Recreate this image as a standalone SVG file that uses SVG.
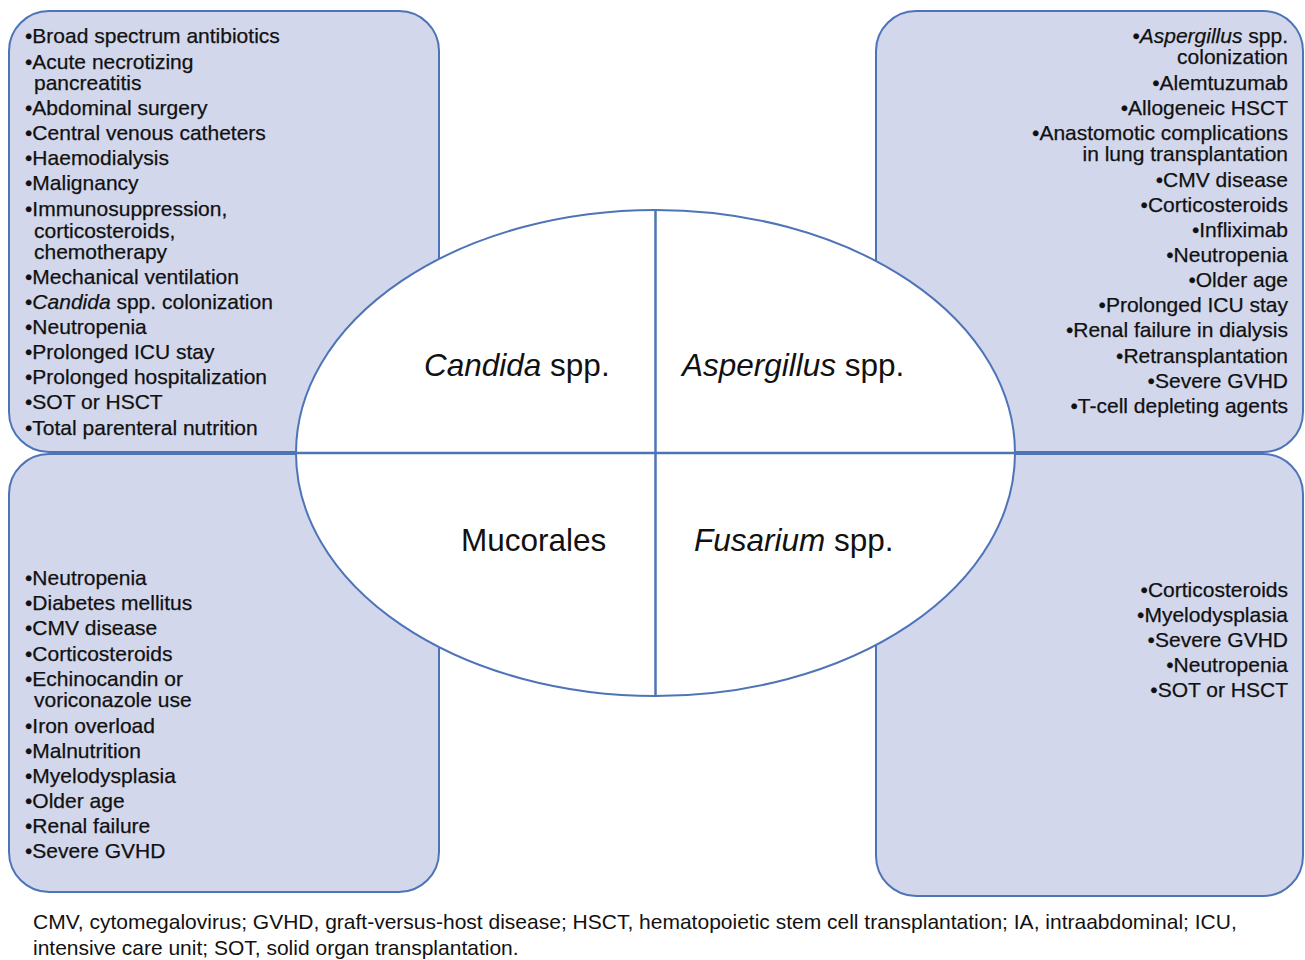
<svg xmlns="http://www.w3.org/2000/svg" width="1305" height="960" viewBox="0 0 1305 960">
<style>
.box{fill:#D3D7EC;stroke:#4E74B8;stroke-width:2}
.t{font-family:"Liberation Sans",Arial,sans-serif;font-size:21px;fill:#111;stroke:#111;stroke-width:0.25}
.r{text-anchor:end}
.c{font-family:"Liberation Sans",Arial,sans-serif;font-size:31.5px;fill:#111}
.f{font-family:"Liberation Sans",Arial,sans-serif;font-size:21px;fill:#111}
.ln{stroke:#4E74B8;stroke-width:2.5;fill:none}
</style>
<rect width="1305" height="960" fill="#fff"/>
<g id="candida-box">
<rect class="box" x="9" y="11" width="430" height="441" rx="40"/>
<text class="t" x="25" y="43">•Broad spectrum antibiotics</text>
<text class="t" x="25" y="69">•Acute necrotizing</text>
<text class="t" x="34" y="90">pancreatitis</text>
<text class="t" x="25" y="115">•Abdominal surgery</text>
<text class="t" x="25" y="140">•Central venous catheters</text>
<text class="t" x="25" y="165">•Haemodialysis</text>
<text class="t" x="25" y="190">•Malignancy</text>
<text class="t" x="25" y="216">•Immunosuppression,</text>
<text class="t" x="34" y="238">corticosteroids,</text>
<text class="t" x="34" y="259">chemotherapy</text>
<text class="t" x="25" y="284">•Mechanical ventilation</text>
<text class="t" x="25" y="309">•<tspan font-style="italic">Candida</tspan> spp. colonization</text>
<text class="t" x="25" y="334">•Neutropenia</text>
<text class="t" x="25" y="359">•Prolonged ICU stay</text>
<text class="t" x="25" y="384">•Prolonged hospitalization</text>
<text class="t" x="25" y="409">•SOT or HSCT</text>
<text class="t" x="25" y="435">•Total parenteral nutrition</text>
</g>
<g id="aspergillus-box">
<rect class="box" x="876" y="11" width="427" height="441" rx="40"/>
<text class="t r" x="1288" y="43">•<tspan font-style="italic">Aspergillus</tspan> spp.</text>
<text class="t r" x="1288" y="64">colonization</text>
<text class="t r" x="1288" y="90">•Alemtuzumab</text>
<text class="t r" x="1288" y="115">•Allogeneic HSCT</text>
<text class="t r" x="1288" y="140">•Anastomotic complications</text>
<text class="t r" x="1288" y="161">in lung transplantation</text>
<text class="t r" x="1288" y="187">•CMV disease</text>
<text class="t r" x="1288" y="212">•Corticosteroids</text>
<text class="t r" x="1288" y="237">•Infliximab</text>
<text class="t r" x="1288" y="262">•Neutropenia</text>
<text class="t r" x="1288" y="287">•Older age</text>
<text class="t r" x="1288" y="312">•Prolonged ICU stay</text>
<text class="t r" x="1288" y="337">•Renal failure in dialysis</text>
<text class="t r" x="1288" y="363">•Retransplantation</text>
<text class="t r" x="1288" y="388">•Severe GVHD</text>
<text class="t r" x="1288" y="413">•T-cell depleting agents</text>
</g>
<g id="mucorales-box">
<rect class="box" x="9" y="454" width="430" height="438" rx="40"/>
<text class="t" x="25" y="585">•Neutropenia</text>
<text class="t" x="25" y="610">•Diabetes mellitus</text>
<text class="t" x="25" y="635">•CMV disease</text>
<text class="t" x="25" y="661">•Corticosteroids</text>
<text class="t" x="25" y="686">•Echinocandin or</text>
<text class="t" x="34" y="707">voriconazole use</text>
<text class="t" x="25" y="733">•Iron overload</text>
<text class="t" x="25" y="758">•Malnutrition</text>
<text class="t" x="25" y="783">•Myelodysplasia</text>
<text class="t" x="25" y="808">•Older age</text>
<text class="t" x="25" y="833">•Renal failure</text>
<text class="t" x="25" y="858">•Severe GVHD</text>
</g>
<g id="fusarium-box">
<rect class="box" x="876" y="454" width="427" height="442" rx="40"/>
<text class="t r" x="1288" y="597">•Corticosteroids</text>
<text class="t r" x="1288" y="622">•Myelodysplasia</text>
<text class="t r" x="1288" y="647">•Severe GVHD</text>
<text class="t r" x="1288" y="672">•Neutropenia</text>
<text class="t r" x="1288" y="697">•SOT or HSCT</text>
</g>
<g id="center-ellipse">
<ellipse cx="655.5" cy="453" rx="359.5" ry="243" fill="#fff" stroke="#4E74B8" stroke-width="2"/>
<text class="c" x="424" y="376"><tspan font-style="italic">Candida</tspan> spp.</text>
<text class="c" x="682" y="376"><tspan font-style="italic">Aspergillus</tspan> spp.</text>
<text class="c" x="461" y="551">Mucorales</text>
<text class="c" x="694" y="551"><tspan font-style="italic">Fusarium</tspan> spp.</text>
</g>
<g id="connectors">
<line class="ln" x1="296" y1="453" x2="1015" y2="453"/>
<line class="ln" x1="655.5" y1="210" x2="655.5" y2="696"/>
</g>
<g id="footer">
<text class="f" x="33" y="929">CMV, cytomegalovirus; GVHD, graft-versus-host disease; HSCT, hematopoietic stem cell transplantation; IA, intraabdominal; ICU,</text>
<text class="f" x="33" y="955">intensive care unit; SOT, solid organ transplantation.</text>
</g>
</svg>
